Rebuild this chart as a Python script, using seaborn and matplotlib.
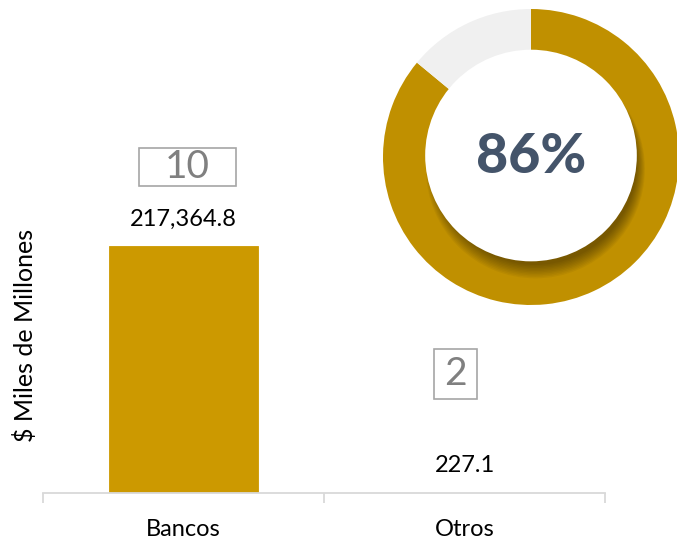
import matplotlib
matplotlib.use("Agg")
import matplotlib.pyplot as plt
import seaborn as sns
import pandas as pd
from matplotlib.patches import Rectangle, Circle

categories = ["Bancos", "Otros"]
values = [217364.8, 227.1]
value_labels = ["217,364.8", "227.1"]
counts = ["10", "2"]
share = [86, 14]
share_label = "86%"

sns.set_theme(style="white")
plt.rcParams["font.family"] = ["Lato", "DejaVu Sans"]

W, H = 677, 541
fig = plt.figure(figsize=(W / 100, H / 100), dpi=100)

def fx(px):
    return px / W

def fy(py):
    return 1 - py / H

# ---- Bar chart ----
ax = fig.add_axes([fx(43), fy(493), (605 - 43) / W, (493 - 10) / H])
df = pd.DataFrame({"cat": categories, "val": values})
sns.barplot(data=df, x="cat", y="val", color="#CC9900", width=0.53, ax=ax,
            saturation=1, edgecolor="#CC9900", linewidth=0.6)
ax.set_xlim(-0.5, 1.5)
ax.set_ylim(0, 425000)
ax.set_yticks([])
ax.set_xlabel("")
ax.set_ylabel("$ Miles de Millones", fontsize=18, color="black")
ax.yaxis.set_label_coords(-0.01, 0.327)
for s in ["top", "right", "left"]:
    ax.spines[s].set_visible(False)
ax.spines["bottom"].set_color("#D9D9D9")
ax.spines["bottom"].set_linewidth(1.3)
ax.set_xticks([0, 1])
ax.set_xticklabels(categories, fontsize=17, color="black")
ax.tick_params(axis="x", which="major", length=0, pad=19)
ax.set_xticks([-0.5, 0.5, 1.5], minor=True)
ax.tick_params(axis="x", which="minor", length=7, width=1.3, color="#D9D9D9",
               direction="out", bottom=True)

for i, (v, lab) in enumerate(zip(values, value_labels)):
    ax.annotate(lab, xy=(i, v), xytext=(0, 19.4), textcoords="offset points",
                ha="center", va="center", fontsize=17, color="black")

# count boxes (figure-pixel layout)
boxes = [(139, 148, 97, 38), (434, 349, 43, 50)]
for (bx, by, bw, bh), c in zip(boxes, counts):
    fig.patches.append(Rectangle((fx(bx), fy(by + bh)), bw / W, bh / H,
                                 transform=fig.transFigure, fill=False,
                                 edgecolor="#A6A6A6", linewidth=1.2))
    fig.text(fx(bx + bw / 2), fy(by + bh / 2), c, ha="center", va="center",
             fontsize=28, color="#808080")

# ---- Donut ----
cx, cy, R = 531, 157, 148
dax = fig.add_axes([fx(cx - R), fy(cy + R), 2 * R / W, 2 * R / H])
dax.pie(share, colors=["#C09000", "#F0F0F0"], startangle=90, counterclock=False,
        radius=1, wedgeprops=dict(linewidth=0))
# shadow under inner circle
for k in range(10):
    dax.add_patch(Circle((0.03, -0.08 + 0.004 * k), 0.74 - 0.006 * k,
                         color="black", alpha=0.045, linewidth=0, zorder=3))
dax.add_patch(Circle((0, 0.01), 0.715, color="white", linewidth=0, zorder=4))
dax.text(0, 0.0, share_label, ha="center", va="center", fontsize=40,
         fontweight="black", color="#44546A", zorder=5)
dax.set_xlim(-1, 1)
dax.set_ylim(-1, 1)
dax.set_aspect("equal")
dax.axis("off")

fig.savefig("out.png", dpi=100)
